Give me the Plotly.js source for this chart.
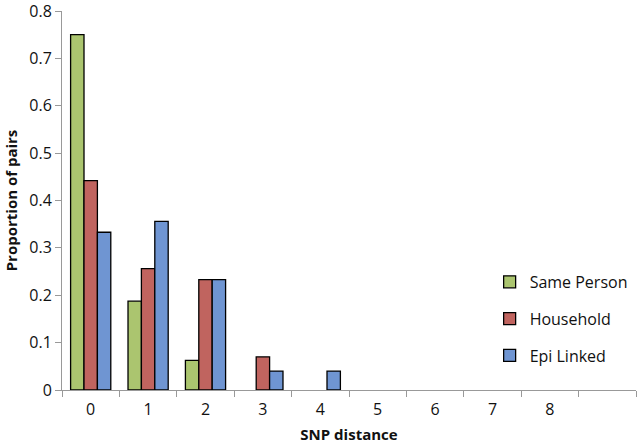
<!DOCTYPE html>
<html>
<head>
<meta charset="utf-8">
<script src="https://cdn.plot.ly/plotly-3.0.1.min.js"></script>
<style>
  html, body { margin: 0; padding: 0; background: #fff; }
  #graph { width: 640px; height: 446px; }
</style>
</head>
<body>
<div id="graph"></div>
<script>
// SNP distance categories (last slot is left empty, as in the original)
var categories = ['0', '1', '2', '3', '4', '5', '6', '7', '8'];
var axisSlots = categories.concat([' ']);

var samePerson = [0.75, 0.1875, 0.0625, null, null, null, null, null, null];
var household  = [0.442, 0.256, 0.233, 0.07, null, null, null, null, null];
var epiLinked  = [0.333, 0.356, 0.233, 0.04, 0.04, null, null, null, null];

var yTicks = [0, 0.1, 0.2, 0.3, 0.4, 0.5, 0.6, 0.7, 0.8];

var seriesNames  = ['Same Person', 'Household', 'Epi Linked'];
var seriesColors = ['#abc56f', '#c0645f', '#6f95d2'];

function makeTrace(values, i) {
    return {
        type: 'bar',
        name: seriesNames[i],
        legendgroup: 'g' + i,
        x: categories,
        y: values,
        marker: {
            color: seriesColors[i],
            line: { color: '#000', width: 1.3 }
        },
        hoverinfo: 'x+y'
    };
}

var data = [samePerson, household, epiLinked].map(makeTrace);

var layout = {
    width: 640,
    height: 446,
    margin: { l: 62, r: 4, t: 11, b: 56 },
    paper_bgcolor: '#fff',
    plot_bgcolor: '#fff',
    barmode: 'group',
    bargap: 0.3,
    bargroupgap: 0,
    font: { family: 'Open Sans', size: 16, color: '#111' },
    showlegend: true,
    legend: {
        x: 0.745,
        y: 0.33,
        xanchor: 'left',
        yanchor: 'top',
        traceorder: 'grouped',
        tracegroupgap: 13,
        itemwidth: 30,
        font: { size: 16 },
        bgcolor: 'rgba(0,0,0,0)'
    },
    xaxis: {
        type: 'category',
        categoryorder: 'array',
        categoryarray: axisSlots,
        range: [-0.5, 9.5],
        tickson: 'boundaries',
        ticks: 'outside',
        ticklen: 6,
        ticklabelstandoff: 5,
        tickcolor: '#999',
        showline: true,
        linecolor: '#999',
        linewidth: 1,
        showgrid: false,
        zeroline: false,
        title: { text: 'SNP distance', font: { size: 15, weight: 'bold' }, standoff: 10 }
    },
    yaxis: {
        range: [0, 0.8],
        tickmode: 'array',
        tickvals: yTicks,
        ticklabeloverflow: 'allow',
        ticks: 'outside',
        ticklen: 6,
        tickcolor: '#999',
        showline: true,
        linecolor: '#999',
        linewidth: 1,
        showgrid: false,
        zeroline: false,
        title: { text: 'Proportion of pairs', font: { size: 15, weight: 'bold' }, standoff: 8 }
    }
};

Plotly.newPlot('graph', data, layout, { displayModeBar: false, staticPlot: true });
</script>
</body>
</html>
